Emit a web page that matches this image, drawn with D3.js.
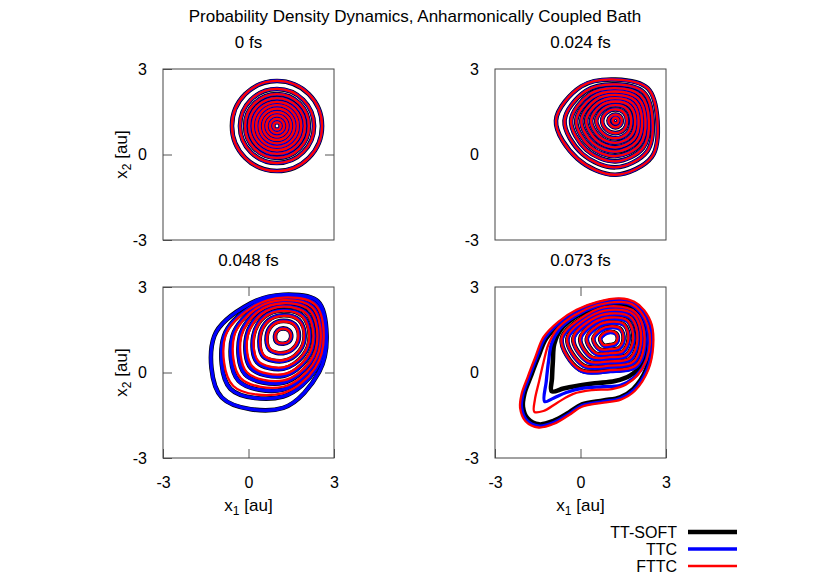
<!DOCTYPE html>
<html>
<head>
<meta charset="utf-8">
<script src="https://cdn.jsdelivr.net/npm/d3@7"></script>
<style>
  body { margin: 0; background: #fff; }
  svg { display: block; font-family: "Liberation Sans", Arial, sans-serif; }
</style>
</head>
<body>
<svg width="830" height="581"></svg>
<script>
(function () {

    // ---- data (contour rings, x1/x2 in au) ----
    var seriesNames = ["TT-SOFT", "TTC", "FTTC"];
    var seriesColors = ["#000000", "#0000ff", "#ff0000"];
    var panelTitles = ["0 fs", "0.024 fs", "0.048 fs", "0.073 fs"];
    var tickValues = [-3, 0, 3];
    // radii of the polar rings are given at these angles (deg)
    var angles = [0, 45, 90, 135, 180, 225, 270, 315];

    // 0 fs : round contours, identical for all methods
    var p1Center = [1, 1];
    var p1Radii = [1.58, 1.30, 1.12, 0.98, 0.85, 0.73, 0.61, 0.49, 0.37, 0.25, 0.13];

    // 0.024 fs
    var p2Center = [1.23, 1.19];
    var p2Rings = [
        [1.47, 1.60, 1.44, 1.70, 2.09, 1.89, 1.90, 1.80],
        [1.30, 1.40, 1.27, 1.47, 1.79, 1.65, 1.64, 1.55],
        [1.17, 1.25, 1.14, 1.30, 1.56, 1.45, 1.43, 1.36],
        [1.05, 1.11, 1.02, 1.15, 1.38, 1.28, 1.25, 1.20],
        [0.93, 0.98, 0.90, 1.01, 1.20, 1.12, 1.09, 1.05],
        [0.81, 0.85, 0.79, 0.87, 1.03, 0.96, 0.94, 0.91],
        [0.69, 0.72, 0.67, 0.73, 0.86, 0.80, 0.78, 0.76],
        [0.55, 0.57, 0.54, 0.58, 0.68, 0.63, 0.62, 0.60],
        [0.40, 0.41, 0.39, 0.42, 0.47, 0.45, 0.44, 0.43],
        [0.22, 0.22, 0.21, 0.22, 0.25, 0.24, 0.24, 0.23],
        [0.10, 0.10, 0.10, 0.10, 0.10, 0.10, 0.10, 0.10]
    ];

    // 0.048 fs
    var p3Center = [1.22, 1.28];
    var p3RingsTT = [   // TT-SOFT and TTC
        [1.52, 1.72, 1.45, 1.62, 2.42, 3.05, 2.52, 1.78],
        [1.44, 1.60, 1.37, 1.50, 2.08, 2.62, 2.12, 1.63],
        [1.34, 1.46, 1.28, 1.38, 1.78, 2.22, 1.88, 1.48],
        [1.22, 1.31, 1.17, 1.25, 1.52, 1.90, 1.64, 1.33],
        [1.08, 1.15, 1.05, 1.10, 1.29, 1.60, 1.40, 1.16],
        [0.93, 0.98, 0.90, 0.95, 1.05, 1.30, 1.15, 0.98],
        [0.75, 0.79, 0.73, 0.76, 0.82, 1.00, 0.88, 0.78],
        [0.55, 0.57, 0.53, 0.55, 0.58, 0.68, 0.60, 0.56],
        [0.28, 0.28, 0.27, 0.28, 0.29, 0.31, 0.27, 0.28]
    ];
    var p3RingsFTTC = [
        [1.42, 1.57, 1.35, 1.47, 2.03, 2.48, 2.00, 1.58],
        [1.32, 1.43, 1.26, 1.35, 1.72, 2.10, 1.78, 1.44],
        [1.20, 1.29, 1.15, 1.22, 1.47, 1.80, 1.56, 1.30],
        [1.06, 1.13, 1.03, 1.08, 1.25, 1.52, 1.34, 1.13],
        [0.91, 0.96, 0.88, 0.93, 1.02, 1.24, 1.10, 0.96],
        [0.73, 0.77, 0.71, 0.74, 0.80, 0.96, 0.85, 0.76],
        [0.53, 0.55, 0.51, 0.53, 0.56, 0.65, 0.58, 0.54],
        [0.27, 0.27, 0.26, 0.27, 0.28, 0.30, 0.26, 0.27]
    ];

    // 0.073 fs
    var p4Centers = [[1.04, 1.18], [1.05, 1.15], [1.03, 1.20]];
    var p4Inner = [
        [1.22, 1.28, 1.12, 1.17, 1.70, 1.52, 1.12, 1.32],
        [1.10, 1.18, 1.00, 1.05, 1.50, 1.32, 0.96, 1.16],
        [0.97, 1.04, 0.87, 0.92, 1.29, 1.12, 0.81, 0.99],
        [0.82, 0.88, 0.73, 0.78, 1.05, 0.92, 0.66, 0.81],
        [0.65, 0.70, 0.58, 0.62, 0.82, 0.72, 0.52, 0.63],
        [0.47, 0.50, 0.42, 0.45, 0.59, 0.52, 0.38, 0.45],
        [0.27, 0.28, 0.25, 0.27, 0.35, 0.32, 0.22, 0.25]
    ];
    var p4MidTT = [[1.40, 2.42], [0.58, 2.30], [-0.15, 1.97], [-0.68, 1.52], [-0.92, 1.0], [-0.97, 0.4],
        [-1.0, -0.2], [-1.01, -0.66], [-0.6, -0.56], [-0.19, -0.48], [0.5, -0.38], [1.21, -0.30],
        [1.75, -0.1], [2.2, 0.35], [2.36, 1.0], [2.3, 1.6], [2.08, 2.08], [1.75, 2.35]];
    var p4MidTTC = [[1.42, 2.45], [0.58, 2.33], [-0.17, 1.99], [-0.74, 1.52], [-1.02, 1.0], [-1.12, 0.4],
        [-1.2, -0.3], [-1.26, -1.02], [-0.95, -0.9], [-0.5, -0.7], [0.1, -0.55], [0.8, -0.5],
        [1.4, -0.45], [1.85, -0.2], [2.25, 0.3], [2.4, 1.0], [2.33, 1.62], [2.1, 2.1], [1.77, 2.38]];
    var p4MidFTTC = [[1.44, 2.48], [0.58, 2.36], [-0.2, 2.02], [-0.8, 1.55], [-1.12, 1.0], [-1.3, 0.35],
        [-1.45, -0.3], [-1.6, -0.95], [-1.62, -1.38], [-1.3, -1.35], [-0.8, -1.05], [-0.25, -0.75],
        [0.4, -0.62], [1.1, -0.58], [1.6, -0.42], [2.0, -0.1], [2.32, 0.45], [2.44, 1.05], [2.36, 1.65],
        [2.12, 2.12], [1.8, 2.4]];
    var p4OuterTT = [[1.39, 2.52], [0.6, 2.4], [-0.1, 2.12], [-0.7, 1.72], [-1.2, 1.2], [-1.5, 0.5],
        [-1.75, -0.15], [-1.97, -0.75], [-2.02, -1.2], [-1.85, -1.62], [-1.45, -1.82], [-0.95, -1.7],
        [-0.4, -1.4], [0.05, -1.12], [0.8, -0.98], [1.39, -0.87], [1.85, -0.58], [2.3, 0.1],
        [2.47, 0.92], [2.42, 1.63], [2.18, 2.12], [1.85, 2.4]];
    var p4OuterTTC = [[1.39, 2.56], [0.6, 2.44], [-0.12, 2.16], [-0.74, 1.75], [-1.25, 1.22], [-1.55, 0.5],
        [-1.8, -0.15], [-2.02, -0.76], [-2.07, -1.22], [-1.89, -1.67], [-1.46, -1.88], [-0.94, -1.76],
        [-0.4, -1.45], [0.05, -1.16], [0.8, -1.02], [1.4, -0.91], [1.88, -0.61], [2.34, 0.1],
        [2.51, 0.92], [2.46, 1.65], [2.21, 2.15], [1.87, 2.44]];
    var p4OuterFTTC = [[1.39, 2.6], [0.6, 2.48], [-0.14, 2.2], [-0.78, 1.78], [-1.3, 1.24], [-1.6, 0.5],
        [-1.85, -0.15], [-2.07, -0.77], [-2.12, -1.24], [-1.93, -1.71], [-1.47, -1.93], [-0.93, -1.8],
        [-0.4, -1.49], [0.05, -1.2], [0.8, -1.06], [1.41, -0.95], [1.91, -0.64], [2.38, 0.1],
        [2.55, 0.92], [2.5, 1.67], [2.24, 2.18], [1.89, 2.48]];

    // ---- helpers ----
    function polar(c, radii) {
        return radii.map(function (r, i) {
            var a = angles[i] * Math.PI / 180;
            return [c[0] + r * Math.cos(a), c[1] + r * Math.sin(a)];
        });
    }

    var p4Mid = [p4MidTT, p4MidTTC, p4MidFTTC],
        p4Outer = [p4OuterTT, p4OuterTTC, p4OuterFTTC];

    var panels = [
        {title: panelTitles[0], left: 163, top: 69, yTick: true, xTick: false, bottomRow: false,
            rings: seriesNames.map(function () {
                return p1Radii.map(function (r) { return {c: p1Center, r: r}; });
            })},
        {title: panelTitles[1], left: 495, top: 69, yTick: false, xTick: false, bottomRow: false,
            rings: seriesNames.map(function () {
                return p2Rings.map(function (r) { return polar(p2Center, r); });
            })},
        {title: panelTitles[2], left: 163, top: 287, yTick: true, xTick: true, bottomRow: true,
            rings: [p3RingsTT, p3RingsTT, p3RingsFTTC].map(function (set) {
                return set.map(function (r) { return polar(p3Center, r); });
            })},
        {title: panelTitles[3], left: 495, top: 287, yTick: false, xTick: true, bottomRow: true,
            rings: seriesNames.map(function (s, i) {
                return [p4Outer[i], p4Mid[i]].concat(p4Inner.map(function (r) { return polar(p4Centers[i], r); }));
            })}
    ];

    var svg = d3.select("svg"),
        size = 171,
        strokeW = [4.6, 3.3, 2.3],
        fmt = function (d) { return String(d); };

    svg.append("text")
        .attr("x", 415).attr("y", 22)
        .attr("text-anchor", "middle")
        .attr("font-size", 17)
        .text("Probability Density Dynamics, Anharmonically Coupled Bath");

    panels.forEach(function (p, pi) {
        var x = d3.scaleLinear().domain([-3, 3]).range([0, size]),
            y = d3.scaleLinear().domain([-3, 3]).range([size, 0]);

        var g = svg.append("g").attr("transform", "translate(" + p.left + "," + p.top + ")");

        g.append("clipPath").attr("id", "clip" + pi)
            .append("rect").attr("width", size).attr("height", size);

        var line = d3.line()
            .x(function (d) { return x(d[0]); })
            .y(function (d) { return y(d[1]); })
            .curve(d3.curveCatmullRomClosed.alpha(0.5));

        var plot = g.append("g").attr("clip-path", "url(#clip" + pi + ")");

        p.rings.forEach(function (rings, si) {
            plot.append("g")
                .selectAll("path")
                .data(rings)
                .enter().append("path")
                .attr("d", function (d) {
                    if (d.r !== undefined) {
                        var path = d3.path(), rr = x(d.r) - x(0);
                        path.moveTo(x(d.c[0]) + rr, y(d.c[1]));
                        path.arc(x(d.c[0]), y(d.c[1]), rr, 0, 2 * Math.PI);
                        return path.toString();
                    }
                    return line(d);
                })
                .attr("fill", "none")
                .attr("stroke", seriesColors[si])
                .attr("stroke-width", strokeW[si])
                .attr("stroke-linejoin", "round");
        });

        // axes: inward ticks, labels only where the figure has them
        var yAxis = d3.axisLeft(y).tickValues(tickValues).tickFormat(fmt)
            .tickSize(p.yTick ? -9 : 0).tickPadding(16);
        var gy = g.append("g").call(yAxis);
        gy.selectAll("text").attr("font-size", 16);
        if (p.yTick) {
            g.append("g").attr("transform", "translate(" + size + ",0)")
                .call(d3.axisRight(y).tickValues([0]).tickSize(-9).tickFormat(""));
        }
        if (p.bottomRow) {
            var xAxis = d3.axisBottom(x).tickValues(tickValues).tickFormat(fmt)
                .tickSize(p.xTick ? -9 : 0).tickPadding(19);
            var gx = g.append("g").attr("transform", "translate(0," + size + ")").call(xAxis);
            gx.selectAll("text").attr("font-size", 16);
            g.append("g").call(d3.axisTop(x).tickValues([0]).tickSize(-9).tickFormat(""));
        }
        g.selectAll(".domain").remove();
        g.selectAll(".tick line").attr("stroke", "#555");
        g.selectAll(".tick text").attr("font-family", null).attr("fill", "#000");

        g.append("rect")
            .attr("width", size).attr("height", size)
            .attr("fill", "none").attr("stroke", "#444").attr("stroke-width", 1);

        svg.append("text")
            .attr("x", p.left + size / 2).attr("y", p.top - 21)
            .attr("text-anchor", "middle")
            .attr("font-size", 17)
            .text(p.title);

        if (p.bottomRow) {
            var xl = svg.append("text")
                .attr("x", p.left + size / 2).attr("y", p.top + size + 53)
                .attr("text-anchor", "middle")
                .attr("font-size", 17);
            xl.append("tspan").text("x");
            xl.append("tspan").attr("dy", 4).attr("font-size", 12).text("1");
            xl.append("tspan").attr("dy", -4).text(" [au]");
        }
        if (pi % 2 === 0) {
            var yl = svg.append("text")
                .attr("transform", "translate(" + 127 + "," + (p.top + size / 2) + ") rotate(-90)")
                .attr("text-anchor", "middle")
                .attr("font-size", 17);
            yl.append("tspan").text("x");
            yl.append("tspan").attr("dy", 4).attr("font-size", 12).text("2");
            yl.append("tspan").attr("dy", -4).text(" [au]");
        }
    });

    // legend
    var legend = svg.append("g").selectAll("g")
        .data(seriesNames)
        .enter().append("g")
        .attr("transform", function (d, i) { return "translate(0," + (532 + i * 17) + ")"; });
    legend.append("text")
        .attr("x", 677).attr("y", 5.5)
        .attr("text-anchor", "end")
        .attr("font-size", 16)
        .text(function (d) { return d; });
    legend.append("line")
        .attr("x1", 688).attr("x2", 737)
        .attr("stroke", function (d, i) { return seriesColors[i]; })
        .attr("stroke-width", function (d, i) { return strokeW[i]; });

})();
</script>
</body>
</html>
